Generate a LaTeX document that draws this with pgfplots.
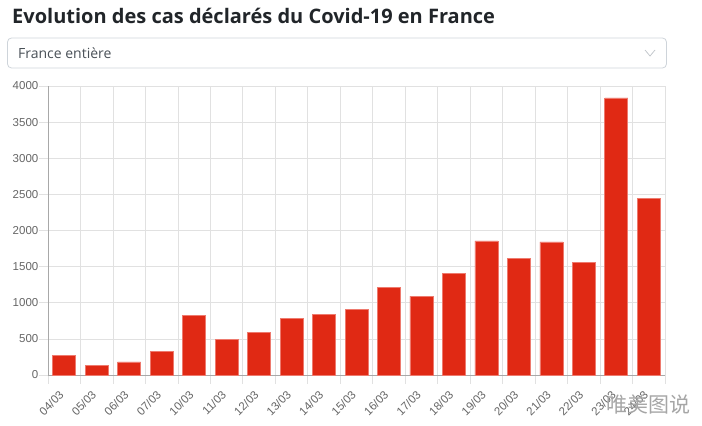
\documentclass[border=0pt]{standalone}
\usepackage{fontspec}
\setmainfont{Liberation Sans}
\newfontfamily\titlefont{Open Sans}
\newfontfamily\uifont{Open Sans}
\newfontfamily\cjk{Noto Sans CJK SC}
\usepackage{pgfplots}
\pgfplotsset{compat=1.18}

\definecolor{barred}{HTML}{E02914}
\definecolor{baredge}{HTML}{EE7A6E}
\definecolor{gridgray}{HTML}{E1E1E1}
\definecolor{axisgray}{HTML}{A8A8A8}
\definecolor{ticktext}{HTML}{666666}
\definecolor{titletext}{HTML}{212529}
\definecolor{boxborder}{HTML}{CED4DA}
\definecolor{boxtext}{HTML}{495057}

\begin{document}
\begin{tikzpicture}
  % page frame, 702 x 426
  \useasboundingbox (0pt,0pt) rectangle (702pt,426pt);

  % title
  \node[anchor=base west, inner sep=0pt, text=titletext]
    at (12pt,402pt) {\titlefont\bfseries\fontsize{20}{24}\selectfont Evolution des cas déclarés du Covid-19 en France};

  % dropdown
  \draw[boxborder, line width=0.8pt, rounded corners=4pt] (7.5pt,388pt) rectangle (666.5pt,358pt);
  \node[anchor=west, inner sep=0pt, text=boxtext] at (18pt,373pt)
    {\uifont\fontsize{14}{16}\selectfont France entière};
  \draw[boxborder!80!gray, line width=0.7pt] (645pt,376pt) -- (650pt,370pt) -- (655pt,376pt);

  \begin{axis}[
      at={(48pt,51pt)}, anchor=south west,
      scale only axis,
      width=617pt, height=289pt,
      ybar, bar width=23pt,
      xmin=-0.5, xmax=18.5,
      ymin=0, ymax=4000,
      axis lines=left,
      axis line style={-, axisgray, line width=0.8pt},
      xtick={0,...,18},
      xticklabels={04/03,05/03,06/03,07/03,10/03,11/03,12/03,13/03,14/03,15/03,16/03,17/03,18/03,19/03,20/03,21/03,22/03,23/03,24/03},
      major x tick style={draw=none},
      minor xtick={-0.5,0.5,...,18.5},
      xminorgrids=true,
      minor grid style={gridgray, line width=0.7pt},
      minor x tick style={gridgray, line width=0.7pt},
      minor tick length=9pt,
      ytick={0,500,...,4000},
      ymajorgrids=true,
      major grid style={gridgray, line width=0.7pt},
      major y tick style={gridgray, line width=0.7pt},
      major tick length=9pt,
      tick align=outside,
      tick pos=left,
      /pgf/number format/assume math mode=true,
      /pgf/number format/1000 sep={},
      tick label style={text=ticktext, font=\fontsize{11.5}{12}\selectfont},
      y tick label style={inner sep=0pt, xshift=-0.5pt},
      x tick label style={rotate=45, anchor=north east, inner sep=1pt, xshift=-7pt, yshift=1pt},
    ]
    \addplot[fill=barred, draw=baredge, line width=0.6pt] coordinates {
      (0,276) (1,129) (2,180) (3,327) (4,829) (5,493) (6,585) (7,779)
      (8,834) (9,912) (10,1207) (11,1092) (12,1401) (13,1857) (14,1613)
      (15,1843) (16,1553) (17,3834) (18,2447)
    };
  \end{axis}

  % watermark
  \node[anchor=west, inner sep=0pt, text=black!35] at (606pt,22pt)
    {\cjk\fontsize{21}{24}\selectfont 唯美图说};
\end{tikzpicture}
\end{document}
